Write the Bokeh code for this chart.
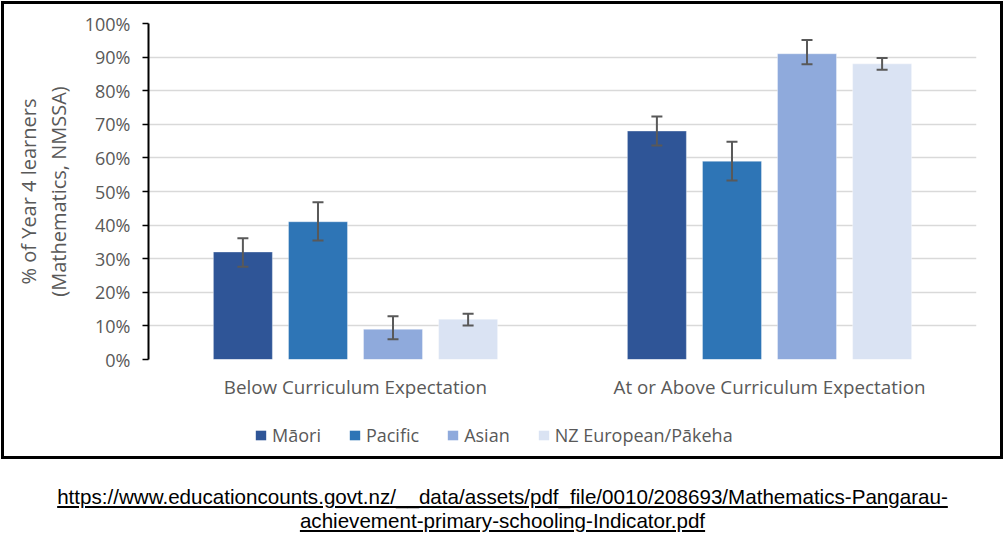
from bokeh.plotting import figure
from bokeh.models import (ColumnDataSource, FactorRange, NumeralTickFormatter, FixedTicker,
                          Legend, LegendItem, Div)
from bokeh.transform import dodge
from bokeh.layouts import column
from bokeh.embed import file_html
from bokeh.resources import INLINE

categories = ["Below Curriculum Expectation", "At or Above Curriculum Expectation"]
groups = ["Māori", "Pacific", "Asian", "NZ European/Pākeha"]
maori = [0.32, 0.68]
pacific = [0.41, 0.59]
asian = [0.09, 0.91]
nz_european = [0.12, 0.88]
maori_lo = [0.276, 0.637]
maori_hi = [0.361, 0.723]
pacific_lo = [0.354, 0.533]
pacific_hi = [0.468, 0.648]
asian_lo = [0.060, 0.879]
asian_hi = [0.129, 0.951]
nz_lo = [0.101, 0.862]
nz_hi = [0.136, 0.897]
y_ticks = [0.0, 0.1, 0.2, 0.3, 0.4, 0.5, 0.6, 0.7, 0.8, 0.9, 1.0]
url_line1 = "https://www.educationcounts.govt.nz/__data/assets/pdf_file/0010/208693/Mathematics-Pangarau-"
url_line2 = "achievement-primary-schooling-Indicator.pdf"

colors = ["#2F5597", "#2E75B6", "#8FAADC", "#DAE3F3"]
offsets = [-0.272, -0.0906, 0.0906, 0.272]
series = [(maori, maori_lo, maori_hi), (pacific, pacific_lo, pacific_hi),
          (asian, asian_lo, asian_hi), (nz_european, nz_lo, nz_hi)]

FONT = "Open Sans"
GREY = "#595959"

x_range = FactorRange(factors=categories, range_padding=0)

# main chart
p = figure(x_range=x_range, y_range=(0, 1),
           width=996, height=406, output_backend="svg", toolbar_location=None,
           min_border_left=144, min_border_right=24, min_border_top=19, min_border_bottom=51,
           outline_line_color=None, background_fill_color="white", border_fill_color="white")

# legend strip (inside the same bordered box); its proxy bars are hidden
lg = figure(width=996, height=46, x_range=x_range, y_range=(-3, -2), x_axis_type=None, y_axis_type=None,
            output_backend="svg", toolbar_location=None, min_border=0,
            outline_line_color=None, background_fill_color="white", border_fill_color="white")

items = []
for g, (vals, lo, hi), col, off in zip(groups, series, colors, offsets):
    src = ColumnDataSource(dict(cat=categories, top=vals, lo=lo, hi=hi))
    p.vbar(x=dodge("cat", off, range=x_range), top="top", width=0.1425, source=src,
           fill_color=col, line_color="white", line_alpha=0.35, line_width=1)
    p.segment(x0=dodge("cat", off, range=x_range), x1=dodge("cat", off, range=x_range),
              y0="lo", y1="hi", source=src, line_color=GREY, line_width=2)
    p.scatter(x=dodge("cat", off, range=x_range), y="lo", source=src, marker="dash",
              size=11, line_color=GREY, line_width=2)
    p.scatter(x=dodge("cat", off, range=x_range), y="hi", source=src, marker="dash",
              size=11, line_color=GREY, line_width=2)
    r = lg.vbar(x=dodge("cat", off, range=x_range), top="top", width=0.1425, source=src,
                fill_color=col, line_color=None, visible=False)
    items.append(LegendItem(label=g, renderers=[r]))

p.ygrid.grid_line_color = "#D9D9D9"
p.ygrid.grid_line_width = 1.5
p.xgrid.grid_line_color = None

p.yaxis.ticker = FixedTicker(ticks=y_ticks)
p.yaxis.formatter = NumeralTickFormatter(format="0%")
p.yaxis.axis_line_color = "black"
p.yaxis.axis_line_width = 2
p.yaxis.major_tick_line_color = "black"
p.yaxis.major_tick_line_width = 1.5
p.yaxis.major_tick_in = 0
p.yaxis.major_tick_out = 6
p.yaxis.minor_tick_line_color = None
p.yaxis.major_label_text_font = FONT
p.yaxis.major_label_text_font_size = "18px"
p.yaxis.major_label_text_color = GREY
p.yaxis.major_label_standoff = 12
p.yaxis.axis_label = "% of Year 4 learners\n(Mathematics, NMSSA)"
p.yaxis.axis_label_text_font = FONT
p.yaxis.axis_label_text_font_size = "20px"
p.yaxis.axis_label_text_font_style = "normal"
p.yaxis.axis_label_text_color = GREY
p.yaxis.axis_label_text_line_height = 1.1
p.yaxis.axis_label_standoff = 10

p.xaxis.axis_line_color = None
p.xaxis.major_tick_line_color = None
p.xaxis.minor_tick_line_color = None
p.xaxis.major_label_text_font = FONT
p.xaxis.major_label_text_font_size = "18.8px"
p.xaxis.major_label_text_color = GREY
p.xaxis.major_label_standoff = 8

legend = Legend(items=items, orientation="horizontal", location=(106, 9),
                glyph_width=13, glyph_height=12, label_standoff=5, spacing=27,
                label_text_font=FONT, label_text_font_size="18px", label_text_color=GREY,
                border_line_color=None, background_fill_alpha=0, padding=4, margin=0,
                inactive_fill_alpha=0)
lg.add_layout(legend, "center")

boxed = column(p, lg, styles={"border": "3px solid black", "margin-left": "1px", "margin-top": "1px"})

div = Div(text=('<div style="width:995px;text-align:center;font-family:\'Liberation Sans\',sans-serif;'
                'font-size:20.6px;line-height:24px;color:black;text-decoration:underline;">'
                + url_line1 + '<br>' + url_line2 + '</div>'),
          width=995, styles={"padding-top": "21px"})

layout = column(boxed, div)
open("out.html", "w").write(file_html(layout, INLINE))
